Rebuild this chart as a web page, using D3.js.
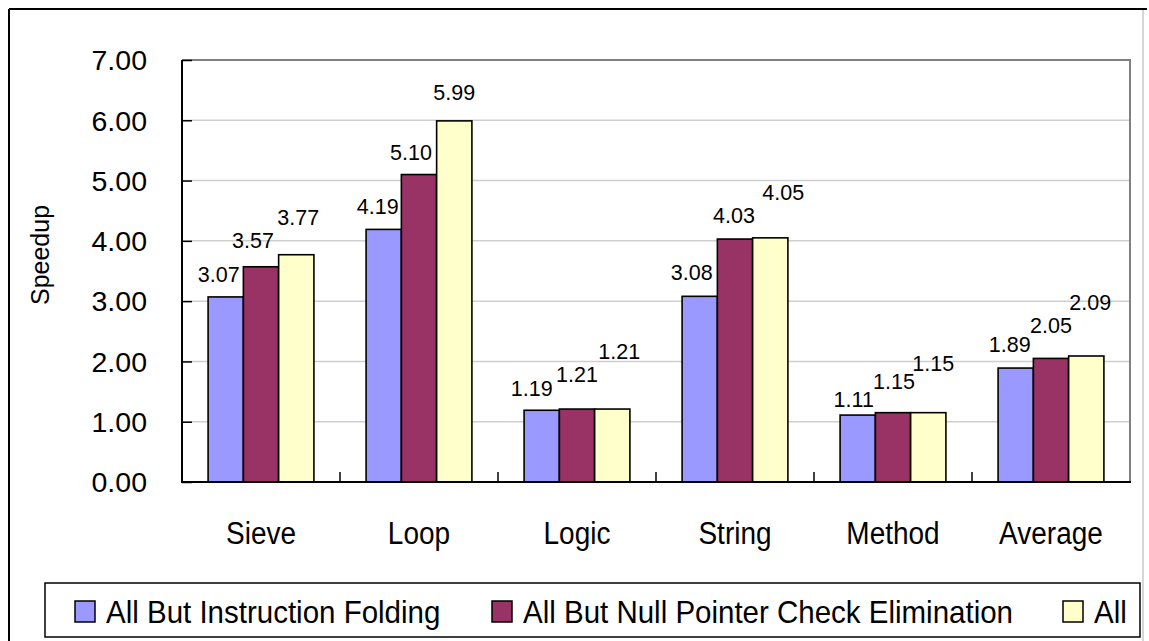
<!DOCTYPE html>
<html>
<head>
<meta charset="utf-8">
<script src="https://cdn.jsdelivr.net/npm/d3@7"></script>
<style>
  html, body { margin: 0; padding: 0; background: #fff; }
  svg { display: block; font-family: "Liberation Sans", Arial, sans-serif; }
</style>
</head>
<body>
<svg id="chart" width="1149" height="641"></svg>
<script>
// Benchmarks and speedups for each optimisation configuration
const categories = ["Sieve", "Loop", "Logic", "String", "Method", "Average"];
const seriesNames = [
  "All But Instruction Folding",
  "All But Null Pointer Check Elimination",
  "All"
];
const allButFolding   = [3.07, 4.19, 1.19, 3.08, 1.11, 1.89];
const allButNullCheck = [3.57, 5.10, 1.21, 4.03, 1.15, 2.05];
const allOpts         = [3.77, 5.99, 1.21, 4.05, 1.15, 2.09];
const seriesValues = [allButFolding, allButNullCheck, allOpts];
const yTicks = [0, 1, 2, 3, 4, 5, 6, 7];
const yTickLabels = ["0.00", "1.00", "2.00", "3.00", "4.00", "5.00", "6.00", "7.00"];

// Hand-placed data-label nudges (dx, dy in px from the top-centre of each bar)
const labelNudges = [
  [[-7, -15], [-6, -15], [-10, -14], [-8, -16], [-4, -8], [-6, -16]],
  [[-8, -19], [-8, -15], [0, -27], [-1, -16], [1, -24], [0, -25]],
  [[2, -30], [0, -21], [7, -50], [13, -38], [5, -42], [4, -46]]
];

const colors = ["#9999FF", "#993366", "#FFFFCC"];

const svg = d3.select("#chart");
const plot = { left: 182, top: 60, right: 1130, bottom: 482 };

// Outer chart frame
svg.append("line").attr("x1", 9).attr("y1", 9).attr("x2", 1147).attr("y2", 9)
  .attr("stroke", "#000").attr("stroke-width", 2);
svg.append("line").attr("x1", 9).attr("y1", 9).attr("x2", 9).attr("y2", 641)
  .attr("stroke", "#000").attr("stroke-width", 2);
svg.append("line").attr("x1", 1143).attr("y1", 10).attr("x2", 1143).attr("y2", 641)
  .attr("stroke", "#c8c8c8").attr("stroke-width", 1.5);

const y = d3.scaleLinear().domain([0, 7]).range([plot.bottom, plot.top]);
const x0 = d3.scaleBand().domain(categories).range([plot.left, plot.right]).padding(0);
const x1 = d3.scaleBand().domain(d3.range(seriesNames.length))
  .range([0, x0.bandwidth()]).paddingInner(0).paddingOuter(0.74);

// Gridlines
svg.append("g")
  .selectAll("line")
  .data(yTicks.filter(t => t > 0 && t < 7))
  .join("line")
  .attr("x1", plot.left).attr("x2", plot.right)
  .attr("y1", d => y(d)).attr("y2", d => y(d))
  .attr("stroke", "#cfcfcf").attr("stroke-width", 1.5);

// Plot-area border (top & right)
svg.append("path")
  .attr("d", `M${plot.left},${plot.top}H${plot.right}V${plot.bottom}`)
  .attr("fill", "none").attr("stroke", "#808080").attr("stroke-width", 2);

// Bars
const groups = svg.append("g")
  .selectAll("g")
  .data(categories)
  .join("g")
  .attr("transform", d => `translate(${x0(d)},0)`);

groups.selectAll("rect")
  .data((c, i) => seriesValues.map((vals, s) => ({ s, v: vals[i] })))
  .join("rect")
  .attr("x", d => x1(d.s))
  .attr("width", x1.bandwidth())
  .attr("y", d => y(d.v))
  .attr("height", d => y(0) - y(d.v))
  .attr("fill", d => colors[d.s])
  .attr("stroke", "#000")
  .attr("stroke-width", 1.6);

// Data labels
groups.selectAll("text")
  .data((c, i) => seriesValues.map((vals, s) => ({ s, i, v: vals[i] })))
  .join("text")
  .attr("x", d => x1(d.s) + x1.bandwidth() / 2 + labelNudges[d.s][d.i][0])
  .attr("y", d => y(d.v) + labelNudges[d.s][d.i][1])
  .attr("text-anchor", "middle")
  .attr("font-size", 21.5)
  .attr("fill", "#000")
  .text(d => d.v.toFixed(2));

// Y axis (ticks point inward)
const yAxis = d3.axisRight(y)
  .tickValues(yTicks)
  .tickSize(10)
  .tickFormat(() => "");
const yG = svg.append("g").attr("transform", `translate(${plot.left},0)`).call(yAxis);
yG.select(".domain").attr("stroke", "#000").attr("stroke-width", 2).attr("d", `M0,${plot.top}V${plot.bottom}`);
yG.selectAll(".tick line").attr("stroke", "#000").attr("stroke-width", 1.5);

svg.append("g")
  .selectAll("text")
  .data(yTicks)
  .join("text")
  .attr("x", 147)
  .attr("y", d => y(d))
  .attr("dy", "0.36em")
  .attr("text-anchor", "end")
  .attr("font-size", 28.5)
  .text((d, i) => yTickLabels[i]);

// X axis: boundary ticks pointing up, category names below
const xG = svg.append("g").attr("transform", `translate(0,${plot.bottom})`);
xG.append("line").attr("x1", plot.left - 1).attr("x2", plot.right + 1)
  .attr("stroke", "#000").attr("stroke-width", 2);
xG.selectAll("line.tick")
  .data(categories.slice(1))
  .join("line")
  .attr("class", "tick")
  .attr("x1", d => x0(d)).attr("x2", d => x0(d))
  .attr("y1", 0).attr("y2", -10)
  .attr("stroke", "#000").attr("stroke-width", 1.5);
xG.selectAll("text")
  .data(categories)
  .join("text")
  .attr("transform", d => `translate(${x0(d) + x0.bandwidth() / 2},62) scale(1,1.1)`)
  .attr("text-anchor", "middle")
  .attr("font-size", 28)
  .text(d => d);

// Y axis title
svg.append("text")
  .attr("transform", "translate(40,255) rotate(-90)")
  .attr("text-anchor", "middle")
  .attr("dominant-baseline", "central")
  .attr("font-size", 25)
  .text("Speedup");

// Legend
const legend = svg.append("g");
legend.append("rect")
  .attr("x", 45).attr("y", 583).attr("width", 1095).attr("height", 54)
  .attr("fill", "#fff").attr("stroke", "#000").attr("stroke-width", 1.5);
const legendX = [75, 492, 1063];
const items = legend.selectAll("g.item")
  .data(seriesNames)
  .join("g")
  .attr("class", "item")
  .attr("transform", (d, i) => `translate(${legendX[i]},601)`);
items.append("rect")
  .attr("width", 20).attr("height", 21)
  .attr("fill", (d, i) => colors[i])
  .attr("stroke", "#000").attr("stroke-width", 1.5);
items.append("text")
  .attr("transform", "translate(31,21.5) scale(1,1.08)")
  .attr("font-size", 29.5)
  .text(d => d);
</script>
</body>
</html>
